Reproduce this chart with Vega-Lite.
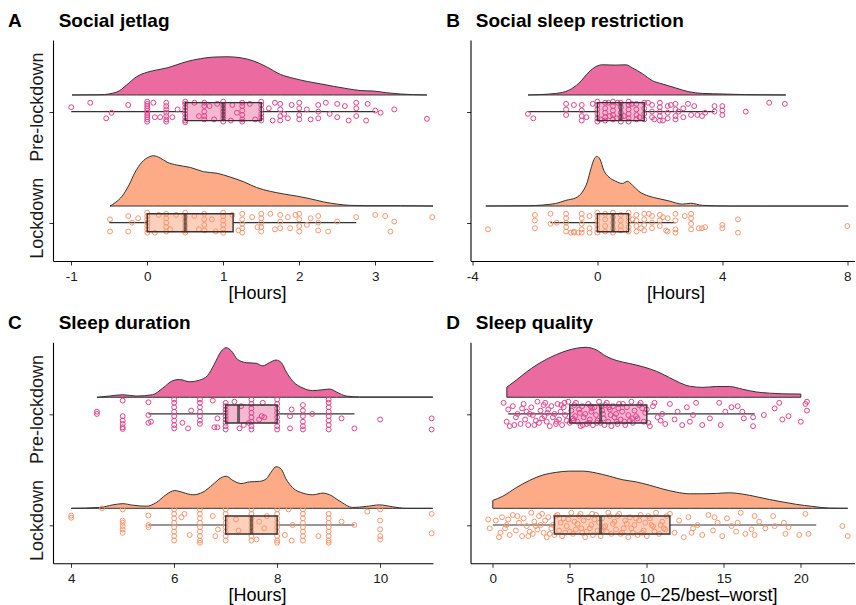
{
"$schema": "https://vega.github.io/schema/vega-lite/v6.json",
"padding": {"left": 8, "top": 12, "right": 0, "bottom": 0},
"config": {
 "view": {"stroke": null},
 "font": "Liberation Sans",
 "axis": {"grid": false, "domainColor": "#000", "domainWidth": 1.1, "tickColor": "#333", "tickSize": 4, "tickWidth": 1, "labelColor": "#1a1a1a", "labelFont": "Liberation Sans", "titleFont": "Liberation Sans", "titleFontWeight": "normal", "titleColor": "#000", "labelFlush": false},
 "axisX": {"labelFontSize": 13.5, "labelPadding": 4, "titleFontSize": 18, "titlePadding": 2},
 "axisY": {"labelFontSize": 18, "labelAngle": -90, "labelAlign": "center", "labelBaseline": "bottom", "labelPadding": 3, "labelOffset": -5},
 "point": {"shape": "circle", "filled": false, "size": 24, "strokeWidth": 1, "opacity": 1},
 "title": {"anchor": "start", "frame": "group", "fontSize": 19, "fontWeight": "bold", "font": "Liberation Sans", "color": "#000", "baseline": "alphabetic", "offset": 9}
},
"datasets": {
 "aPD": [{"x":-0.99,"y":2.15},{"x":-0.62,"y":2.152},{"x":-0.4,"y":2.176},{"x":-0.27,"y":2.241},{"x":-0.14,"y":2.314},{"x":0,"y":2.355},{"x":0.13,"y":2.376},{"x":0.26,"y":2.394},{"x":0.39,"y":2.422},{"x":0.52,"y":2.451},{"x":0.7,"y":2.477},{"x":0.87,"y":2.491},{"x":1.05,"y":2.494},{"x":1.22,"y":2.486},{"x":1.4,"y":2.456},{"x":1.58,"y":2.4},{"x":1.75,"y":2.336},{"x":1.93,"y":2.299},{"x":2.11,"y":2.271},{"x":2.28,"y":2.25},{"x":2.45,"y":2.228},{"x":2.63,"y":2.207},{"x":2.8,"y":2.19},{"x":2.98,"y":2.185},{"x":3.15,"y":2.17},{"x":3.33,"y":2.159},{"x":3.5,"y":2.153},{"x":3.68,"y":2.15}],
 "aLD": [{"x":-0.49,"y":1.15},{"x":-0.42,"y":1.181},{"x":-0.33,"y":1.239},{"x":-0.24,"y":1.339},{"x":-0.16,"y":1.454},{"x":-0.07,"y":1.545},{"x":0.02,"y":1.591},{"x":0.08,"y":1.603},{"x":0.17,"y":1.583},{"x":0.26,"y":1.545},{"x":0.39,"y":1.519},{"x":0.57,"y":1.497},{"x":0.74,"y":1.459},{"x":0.92,"y":1.445},{"x":1.09,"y":1.411},{"x":1.27,"y":1.368},{"x":1.44,"y":1.316},{"x":1.62,"y":1.282},{"x":1.79,"y":1.259},{"x":1.97,"y":1.239},{"x":2.14,"y":1.216},{"x":2.32,"y":1.187},{"x":2.5,"y":1.167},{"x":2.67,"y":1.156},{"x":2.89,"y":1.153},{"x":3.33,"y":1.153},{"x":3.76,"y":1.15}],
 "aB": [{"g":"Pre-lockdown","y":2,"lo":-1,"q1":0.5,"med":1,"q3":1.5,"hi":3},{"g":"Lockdown","y":1,"lo":-0.5,"q1":0,"med":0.5,"q3":1.13,"hi":2.75}],
 "aP": [{"x":0,"y":2.09},{"x":0,"y":2.07},{"x":0,"y":2.05},{"x":0,"y":2.03},{"x":0,"y":2.01},{"x":0,"y":1.99},{"x":0,"y":1.97},{"x":0,"y":1.95},{"x":0,"y":1.93},{"x":0,"y":1.91},
  {"x":0.25,"y":2.08},{"x":0.25,"y":2.05},{"x":0.25,"y":2.02},{"x":0.25,"y":1.99},{"x":0.25,"y":1.96},{"x":0.25,"y":1.93},{"x":0.25,"y":1.91},
  {"x":0.5,"y":2.09},{"x":0.5,"y":2.07},{"x":0.5,"y":2.04},{"x":0.5,"y":2.01},{"x":0.5,"y":1.98},{"x":0.5,"y":1.95},{"x":0.5,"y":1.92},{"x":0.5,"y":1.905},
  {"x":0.75,"y":2.08},{"x":0.75,"y":2.05},{"x":0.75,"y":2.0},{"x":0.75,"y":1.96},{"x":0.75,"y":1.93},
  {"x":1,"y":2.09},{"x":1,"y":2.06},{"x":1,"y":2.03},{"x":1,"y":2.0},{"x":1,"y":1.97},{"x":1,"y":1.94},{"x":1,"y":1.91},
  {"x":1.25,"y":2.08},{"x":1.25,"y":2.05},{"x":1.25,"y":2.01},{"x":1.25,"y":1.97},{"x":1.25,"y":1.93},{"x":1.25,"y":1.91},
  {"x":1.5,"y":2.09},{"x":1.5,"y":2.06},{"x":1.5,"y":2.02},{"x":1.5,"y":1.98},{"x":1.5,"y":1.95},{"x":1.5,"y":1.92},
  {"x":1.75,"y":2.07},{"x":1.75,"y":2.02},{"x":1.75,"y":1.96},{"x":1.75,"y":1.92},
  {"x":2,"y":2.08},{"x":2,"y":2.03},{"x":2,"y":1.97},{"x":2,"y":1.93},
  {"x":2.25,"y":2.06},{"x":2.25,"y":2.0},{"x":2.25,"y":1.94},
  {"x":2.5,"y":2.07},{"x":2.5,"y":1.95},
  {"x":2.75,"y":2.08},{"x":2.75,"y":2.03},{"x":2.75,"y":1.96},{"x":3,"y":2.01},
  {"x":-1,"y":2.04},{"x":-0.75,"y":2.08},{"x":-0.54,"y":1.94},{"x":-0.47,"y":1.99},{"x":-0.25,"y":2.06},{"x":0.08,"y":2.08},{"x":0.1,"y":1.95},{"x":0.17,"y":1.95},{"x":0.33,"y":1.95},{"x":0.4,"y":2.02},{"x":0.62,"y":2.08},{"x":0.68,"y":1.96},{"x":0.82,"y":2.05},{"x":0.88,"y":1.93},{"x":0.92,"y":2.07},{"x":1.1,"y":1.92},{"x":1.12,"y":2.06},{"x":1.18,"y":1.99},{"x":1.35,"y":2.07},{"x":1.42,"y":1.93},{"x":1.6,"y":2.03},{"x":1.65,"y":1.92},{"x":1.68,"y":2.08},{"x":1.8,"y":1.98},{"x":1.85,"y":1.94},{"x":1.9,"y":2.06},{"x":2.1,"y":2.02},{"x":2.15,"y":1.93},{"x":2.35,"y":2.08},{"x":2.4,"y":1.98},{"x":2.6,"y":2.05},{"x":2.65,"y":1.92},{"x":2.9,"y":2.07},{"x":2.88,"y":1.92},{"x":3.07,"y":1.99},{"x":3.25,"y":2.02},{"x":3.68,"y":1.935}],
 "aL": [{"x":0,"y":1.09},{"x":0,"y":1.06},{"x":0,"y":1.03},{"x":0,"y":1.0},{"x":0,"y":0.97},{"x":0,"y":0.94},{"x":0,"y":0.91},
  {"x":0.25,"y":1.08},{"x":0.25,"y":1.04},{"x":0.25,"y":1.0},{"x":0.25,"y":0.96},{"x":0.25,"y":0.92},
  {"x":0.5,"y":1.09},{"x":0.5,"y":1.05},{"x":0.5,"y":1.01},{"x":0.5,"y":0.97},{"x":0.5,"y":0.93},{"x":0.5,"y":0.91},
  {"x":0.75,"y":1.08},{"x":0.75,"y":1.03},{"x":0.75,"y":0.98},{"x":0.75,"y":0.93},
  {"x":1,"y":1.09},{"x":1,"y":1.06},{"x":1,"y":1.02},{"x":1,"y":0.98},{"x":1,"y":0.94},{"x":1,"y":0.91},
  {"x":1.25,"y":1.08},{"x":1.25,"y":1.03},{"x":1.25,"y":0.99},{"x":1.25,"y":0.95},{"x":1.25,"y":0.91},
  {"x":1.5,"y":1.08},{"x":1.5,"y":1.04},{"x":1.5,"y":1.0},{"x":1.5,"y":0.96},{"x":1.5,"y":0.92},
  {"x":1.75,"y":1.07},{"x":1.75,"y":1.01},{"x":1.75,"y":0.95},
  {"x":2,"y":1.08},{"x":2,"y":1.03},{"x":2,"y":0.97},{"x":2,"y":0.92},
  {"x":2.25,"y":1.06},{"x":2.25,"y":1.0},{"x":2.25,"y":0.93},
  {"x":-0.49,"y":1.03},{"x":-0.49,"y":0.92},{"x":-0.25,"y":1.06},{"x":-0.25,"y":0.92},{"x":-0.2,"y":1.0},{"x":-0.12,"y":1.04},{"x":0.1,"y":0.91},{"x":0.15,"y":1.07},{"x":0.3,"y":0.94},{"x":0.38,"y":1.07},{"x":0.62,"y":1.06},{"x":0.68,"y":0.94},{"x":0.85,"y":1.03},{"x":0.9,"y":0.92},{"x":1.12,"y":1.07},{"x":1.2,"y":0.93},{"x":1.38,"y":1.05},{"x":1.45,"y":0.96},{"x":1.62,"y":1.08},{"x":1.68,"y":0.94},{"x":1.85,"y":1.05},{"x":1.88,"y":0.95},{"x":1.95,"y":1.07},{"x":2.1,"y":0.98},{"x":2.15,"y":1.04},{"x":2.38,"y":0.92},{"x":2.5,"y":1.01},{"x":2.75,"y":1.05},{"x":3.0,"y":1.07},{"x":3.13,"y":1.06},{"x":3.2,"y":0.92},{"x":3.25,"y":1.01},{"x":3.75,"y":1.05}],
 "bPD": [{"x":-2.22,"y":2.15},{"x":-1.33,"y":2.164},{"x":-0.91,"y":2.193},{"x":-0.59,"y":2.256},{"x":-0.27,"y":2.357},{"x":-0.05,"y":2.405},{"x":0.16,"y":2.422},{"x":0.59,"y":2.419},{"x":0.91,"y":2.422},{"x":1.12,"y":2.394},{"x":1.44,"y":2.342},{"x":1.76,"y":2.279},{"x":2.07,"y":2.25},{"x":2.51,"y":2.213},{"x":2.93,"y":2.179},{"x":3.36,"y":2.164},{"x":4.0,"y":2.159},{"x":4.75,"y":2.153},{"x":6.03,"y":2.15}],
 "bLD": [{"x":-3.57,"y":1.15},{"x":-2.19,"y":1.153},{"x":-1.33,"y":1.173},{"x":-1.01,"y":1.201},{"x":-0.69,"y":1.224},{"x":-0.48,"y":1.276},{"x":-0.32,"y":1.368},{"x":-0.21,"y":1.482},{"x":-0.11,"y":1.568},{"x":-0.02,"y":1.597},{"x":0.08,"y":1.574},{"x":0.21,"y":1.468},{"x":0.37,"y":1.411},{"x":0.59,"y":1.373},{"x":0.8,"y":1.353},{"x":0.96,"y":1.373},{"x":1.12,"y":1.339},{"x":1.33,"y":1.282},{"x":1.65,"y":1.239},{"x":1.97,"y":1.216},{"x":2.29,"y":1.196},{"x":2.72,"y":1.167},{"x":2.99,"y":1.175},{"x":3.36,"y":1.156},{"x":4.21,"y":1.15},{"x":5.28,"y":1.15},{"x":8.03,"y":1.15}],
 "bB": [{"g":"Pre-lockdown","y":2,"lo":-2.22,"q1":0,"med":0.75,"q3":1.5,"hi":3.75},{"g":"Lockdown","y":1,"lo":-1.5,"q1":0,"med":0.5,"q3":1.0,"hi":2.5}],
 "bP": [{"x":-1,"y":2.07},{"x":-1,"y":2.02},{"x":-1,"y":1.97},
  {"x":-0.5,"y":2.06},{"x":-0.5,"y":2.01},{"x":-0.5,"y":1.96},{"x":-0.5,"y":1.92},
  {"x":0,"y":2.09},{"x":0,"y":2.06},{"x":0,"y":2.02},{"x":0,"y":1.98},{"x":0,"y":1.94},{"x":0,"y":1.91},
  {"x":0.25,"y":2.08},{"x":0.25,"y":2.03},{"x":0.25,"y":1.99},{"x":0.25,"y":1.95},{"x":0.25,"y":1.92},
  {"x":0.5,"y":2.09},{"x":0.5,"y":2.05},{"x":0.5,"y":2.01},{"x":0.5,"y":1.97},{"x":0.5,"y":1.93},
  {"x":0.75,"y":2.08},{"x":0.75,"y":2.04},{"x":0.75,"y":1.99},{"x":0.75,"y":1.95},{"x":0.75,"y":1.91},
  {"x":1,"y":2.09},{"x":1,"y":2.06},{"x":1,"y":2.02},{"x":1,"y":1.98},{"x":1,"y":1.94},{"x":1,"y":1.91},
  {"x":1.25,"y":2.07},{"x":1.25,"y":2.02},{"x":1.25,"y":1.97},{"x":1.25,"y":1.93},
  {"x":1.5,"y":2.08},{"x":1.5,"y":2.03},{"x":1.5,"y":1.98},{"x":1.5,"y":1.93},
  {"x":1.75,"y":2.06},{"x":1.75,"y":2.0},{"x":1.75,"y":1.95},
  {"x":2,"y":2.08},{"x":2,"y":2.04},{"x":2,"y":2.0},{"x":2,"y":1.96},{"x":2,"y":1.92},
  {"x":2.25,"y":2.05},{"x":2.25,"y":1.99},{"x":2.25,"y":1.94},
  {"x":2.5,"y":2.07},{"x":2.5,"y":2.02},{"x":2.5,"y":1.96},{"x":2.5,"y":1.93},
  {"x":2.75,"y":2.03},{"x":2.75,"y":1.95},
  {"x":-2.22,"y":1.98},{"x":-2.05,"y":1.94},{"x":-0.75,"y":2.06},{"x":-0.35,"y":1.95},{"x":-0.15,"y":2.07},{"x":0.1,"y":1.93},{"x":0.35,"y":2.08},{"x":0.4,"y":1.96},{"x":0.62,"y":1.94},{"x":0.65,"y":2.08},{"x":0.85,"y":1.96},{"x":1.1,"y":2.07},{"x":1.35,"y":1.95},{"x":1.62,"y":2.08},{"x":1.82,"y":1.93},{"x":2.1,"y":1.92},{"x":2.35,"y":2.06},{"x":2.6,"y":2.0},{"x":2.9,"y":2.07},{"x":3.0,"y":1.97},{"x":3.1,"y":2.05},{"x":3.2,"y":1.97},{"x":3.35,"y":1.96},{"x":3.45,"y":1.99},{"x":3.75,"y":2.05},{"x":3.75,"y":2.0},{"x":4.0,"y":2.05},{"x":4.0,"y":2.01},{"x":4.0,"y":1.97},{"x":4.75,"y":2.0},{"x":5.5,"y":2.08},{"x":6.0,"y":2.07}],
 "bL": [{"x":-2,"y":1.07},{"x":-2,"y":1.02},{"x":-2,"y":0.95},{"x":-1.5,"y":1.08},{"x":-1.5,"y":0.99},
  {"x":-1,"y":1.08},{"x":-1,"y":1.04},{"x":-1,"y":1.0},{"x":-1,"y":0.96},{"x":-1,"y":0.92},
  {"x":-0.75,"y":0.92},{"x":-0.75,"y":0.91},
  {"x":-0.5,"y":1.08},{"x":-0.5,"y":1.04},{"x":-0.5,"y":0.99},{"x":-0.5,"y":0.94},{"x":-0.5,"y":0.91},
  {"x":-0.25,"y":1.06},{"x":-0.25,"y":0.95},{"x":-0.25,"y":0.91},
  {"x":0,"y":1.09},{"x":0,"y":1.06},{"x":0,"y":1.02},{"x":0,"y":0.98},{"x":0,"y":0.94},{"x":0,"y":0.91},
  {"x":0.25,"y":1.08},{"x":0.25,"y":1.03},{"x":0.25,"y":0.97},{"x":0.25,"y":0.92},
  {"x":0.5,"y":1.09},{"x":0.5,"y":1.05},{"x":0.5,"y":1.0},{"x":0.5,"y":0.95},{"x":0.5,"y":0.91},
  {"x":0.75,"y":1.07},{"x":0.75,"y":1.02},{"x":0.75,"y":0.97},{"x":0.75,"y":0.93},
  {"x":1,"y":1.09},{"x":1,"y":1.05},{"x":1,"y":1.01},{"x":1,"y":0.96},{"x":1,"y":0.92},
  {"x":1.25,"y":1.07},{"x":1.25,"y":1.02},{"x":1.25,"y":0.97},{"x":1.25,"y":0.92},
  {"x":1.5,"y":1.08},{"x":1.5,"y":1.03},{"x":1.5,"y":0.98},{"x":1.5,"y":0.93},
  {"x":1.75,"y":1.06},{"x":1.75,"y":1.0},{"x":1.75,"y":0.95},
  {"x":2,"y":1.07},{"x":2,"y":1.02},{"x":2,"y":0.97},
  {"x":2.25,"y":1.04},{"x":2.25,"y":0.92},
  {"x":2.5,"y":1.08},{"x":2.5,"y":1.02},{"x":2.5,"y":0.94},{"x":2.5,"y":0.91},
  {"x":3,"y":1.08},{"x":3,"y":1.04},{"x":3,"y":0.99},{"x":3,"y":0.94},
  {"x":-3.5,"y":0.94},{"x":-1.3,"y":1.0},{"x":-0.85,"y":0.91},{"x":-0.6,"y":0.91},{"x":1.12,"y":1.03},{"x":1.4,"y":0.95},{"x":1.65,"y":1.08},{"x":2.1,"y":1.05},{"x":2.2,"y":0.93},{"x":2.8,"y":1.06},{"x":3.25,"y":0.95},{"x":3.35,"y":0.95},{"x":3.45,"y":0.96},{"x":4.0,"y":0.98},{"x":4.0,"y":0.95},{"x":4.5,"y":1.03},{"x":4.5,"y":0.91},{"x":8.0,"y":0.97}],
 "cPD": [{"x":4.5,"y":2.15},{"x":4.74,"y":2.161},{"x":5.0,"y":2.173},{"x":5.26,"y":2.161},{"x":5.58,"y":2.173},{"x":5.78,"y":2.233},{"x":5.97,"y":2.299},{"x":6.1,"y":2.31},{"x":6.3,"y":2.29},{"x":6.49,"y":2.304},{"x":6.65,"y":2.347},{"x":6.78,"y":2.448},{"x":6.91,"y":2.562},{"x":7.01,"y":2.597},{"x":7.11,"y":2.568},{"x":7.23,"y":2.491},{"x":7.4,"y":2.462},{"x":7.59,"y":2.456},{"x":7.72,"y":2.433},{"x":7.85,"y":2.462},{"x":7.98,"y":2.485},{"x":8.08,"y":2.462},{"x":8.18,"y":2.376},{"x":8.3,"y":2.296},{"x":8.5,"y":2.233},{"x":8.69,"y":2.21},{"x":8.89,"y":2.218},{"x":9.02,"y":2.224},{"x":9.15,"y":2.198},{"x":9.34,"y":2.161},{"x":9.6,"y":2.153},{"x":11.02,"y":2.153}],
 "cLD": [{"x":4.0,"y":1.15},{"x":4.55,"y":1.158},{"x":4.81,"y":1.181},{"x":5.0,"y":1.192},{"x":5.2,"y":1.178},{"x":5.46,"y":1.169},{"x":5.65,"y":1.201},{"x":5.84,"y":1.272},{"x":6.01,"y":1.31},{"x":6.17,"y":1.293},{"x":6.36,"y":1.272},{"x":6.56,"y":1.296},{"x":6.75,"y":1.364},{"x":6.91,"y":1.425},{"x":7.01,"y":1.439},{"x":7.14,"y":1.401},{"x":7.3,"y":1.373},{"x":7.46,"y":1.388},{"x":7.66,"y":1.393},{"x":7.79,"y":1.416},{"x":7.88,"y":1.474},{"x":7.98,"y":1.525},{"x":8.08,"y":1.502},{"x":8.17,"y":1.416},{"x":8.3,"y":1.336},{"x":8.5,"y":1.287},{"x":8.69,"y":1.272},{"x":8.89,"y":1.287},{"x":9.02,"y":1.272},{"x":9.21,"y":1.216},{"x":9.47,"y":1.158},{"x":9.73,"y":1.167},{"x":9.99,"y":1.181},{"x":10.24,"y":1.164},{"x":10.5,"y":1.15},{"x":11.02,"y":1.15}],
 "cB": [{"g":"Pre-lockdown","y":2,"lo":5.5,"q1":7,"med":7.25,"q3":8,"hi":9.5},{"g":"Lockdown","y":1,"lo":5.5,"q1":7,"med":7.5,"q3":8,"hi":9.5}],
 "cP": [{"x":4.5,"y":2.02},{"x":4.5,"y":2.0},
  {"x":5,"y":2.12},{"x":5,"y":1.98},{"x":5,"y":1.94},{"x":5,"y":1.91},{"x":5,"y":1.88},{"x":5,"y":1.865},
  {"x":5.5,"y":2.105},{"x":5.5,"y":1.99},{"x":5.5,"y":1.92},
  {"x":6,"y":2.13},{"x":6,"y":2.1},{"x":6,"y":2.06},{"x":6,"y":2.02},{"x":6,"y":1.98},{"x":6,"y":1.94},{"x":6,"y":1.9},{"x":6,"y":1.87},
  {"x":6.5,"y":2.13},{"x":6.5,"y":2.1},{"x":6.5,"y":2.06},{"x":6.5,"y":2.02},{"x":6.5,"y":1.98},{"x":6.5,"y":1.94},{"x":6.5,"y":1.91},
  {"x":7,"y":2.1},{"x":7,"y":2.07},{"x":7,"y":2.04},{"x":7,"y":2.01},{"x":7,"y":1.98},{"x":7,"y":1.95},{"x":7,"y":1.92},{"x":7,"y":1.89},{"x":7,"y":1.86},
  {"x":7.5,"y":2.13},{"x":7.5,"y":2.09},{"x":7.5,"y":2.05},{"x":7.5,"y":2.01},{"x":7.5,"y":1.97},{"x":7.5,"y":1.93},{"x":7.5,"y":1.89},{"x":7.5,"y":1.86},
  {"x":8,"y":2.13},{"x":8,"y":2.09},{"x":8,"y":2.05},{"x":8,"y":2.01},{"x":8,"y":1.97},{"x":8,"y":1.93},{"x":8,"y":1.89},{"x":8,"y":1.86},
  {"x":8.5,"y":2.08},{"x":8.5,"y":2.03},{"x":8.5,"y":1.98},{"x":8.5,"y":1.93},{"x":8.5,"y":1.89},{"x":8.5,"y":1.86},
  {"x":9,"y":2.13},{"x":9,"y":2.1},{"x":9,"y":2.06},{"x":9,"y":2.02},{"x":9,"y":1.98},{"x":9,"y":1.94},{"x":9,"y":1.9},{"x":9,"y":1.86},
  {"x":5.55,"y":1.93},{"x":6.16,"y":1.92},{"x":6.27,"y":1.87},{"x":6.33,"y":2.03},{"x":6.75,"y":2.12},{"x":6.78,"y":1.88},{"x":6.84,"y":1.88},{"x":6.84,"y":1.96},{"x":7.17,"y":2.11},{"x":7.27,"y":1.87},{"x":7.3,"y":2.07},{"x":7.35,"y":1.9},{"x":7.45,"y":1.92},{"x":7.65,"y":1.95},{"x":7.7,"y":1.98},{"x":7.75,"y":1.97},{"x":7.72,"y":2.1},{"x":8.25,"y":1.98},{"x":8.25,"y":1.87},{"x":8.28,"y":2.04},{"x":8.68,"y":2.0},{"x":9.25,"y":1.96},{"x":9.5,"y":1.87},{"x":10.0,"y":1.95},{"x":11.0,"y":1.96},{"x":11.0,"y":1.86}],
 "cL": [{"x":4,"y":1.085},{"x":4,"y":1.065},
  {"x":5,"y":1.14},{"x":5,"y":1.04},{"x":5,"y":1.02},{"x":5,"y":0.99},{"x":5,"y":0.96},{"x":5,"y":0.93},
  {"x":5.5,"y":1.085},{"x":5.5,"y":1.0},{"x":5.5,"y":0.98},
  {"x":6,"y":1.14},{"x":6,"y":1.1},{"x":6,"y":1.06},{"x":6,"y":1.02},{"x":6,"y":0.98},{"x":6,"y":0.94},{"x":6,"y":0.9},{"x":6,"y":0.86},
  {"x":6.5,"y":1.14},{"x":6.5,"y":1.1},{"x":6.5,"y":1.06},{"x":6.5,"y":1.02},{"x":6.5,"y":0.98},{"x":6.5,"y":0.94},{"x":6.5,"y":0.9},{"x":6.5,"y":0.86},{"x":6.5,"y":0.84},
  {"x":7,"y":1.14},{"x":7,"y":1.1},{"x":7,"y":1.06},{"x":7,"y":1.02},{"x":7,"y":0.98},{"x":7,"y":0.94},{"x":7,"y":0.9},{"x":7,"y":0.86},
  {"x":7.5,"y":1.14},{"x":7.5,"y":1.1},{"x":7.5,"y":1.06},{"x":7.5,"y":1.02},{"x":7.5,"y":0.98},{"x":7.5,"y":0.94},{"x":7.5,"y":0.9},{"x":7.5,"y":0.86},
  {"x":8,"y":1.14},{"x":8,"y":1.1},{"x":8,"y":1.06},{"x":8,"y":1.02},{"x":8,"y":0.98},{"x":8,"y":0.94},{"x":8,"y":0.9},{"x":8,"y":0.86},{"x":8,"y":0.84},
  {"x":8.5,"y":1.14},{"x":8.5,"y":1.1},{"x":8.5,"y":1.06},{"x":8.5,"y":1.02},{"x":8.5,"y":0.98},{"x":8.5,"y":0.94},{"x":8.5,"y":0.9},{"x":8.5,"y":0.86},
  {"x":9,"y":1.1},{"x":9,"y":1.06},{"x":9,"y":1.02},{"x":9,"y":0.98},{"x":9,"y":0.94},{"x":9,"y":0.9},{"x":9,"y":0.86},{"x":9,"y":0.84},
  {"x":10,"y":1.14},{"x":10,"y":1.04},{"x":10,"y":0.96},{"x":10,"y":0.9},{"x":10,"y":0.87},
  {"x":11,"y":1.1},{"x":11,"y":0.925},
  {"x":4.6,"y":1.15},{"x":6.14,"y":1.07},{"x":6.2,"y":1.1},{"x":6.3,"y":0.91},{"x":6.75,"y":1.08},{"x":6.8,"y":0.9},{"x":6.85,"y":0.96},{"x":7.2,"y":1.05},{"x":7.25,"y":0.95},{"x":7.6,"y":0.87},{"x":7.65,"y":1.03},{"x":7.75,"y":0.97},{"x":7.8,"y":1.08},{"x":8.22,"y":1.14},{"x":8.15,"y":0.91},{"x":8.3,"y":1.0},{"x":8.28,"y":0.86},{"x":8.8,"y":0.9},{"x":9.25,"y":1.03},{"x":9.5,"y":1.0},{"x":9.75,"y":1.12}],
 "dPD": [{"x":0.91,"y":2.241},{"x":1.52,"y":2.304},{"x":2.17,"y":2.376},{"x":2.82,"y":2.439},{"x":3.47,"y":2.491},{"x":4.12,"y":2.534},{"x":4.77,"y":2.568},{"x":5.42,"y":2.591},{"x":6.06,"y":2.6},{"x":6.71,"y":2.577},{"x":7.36,"y":2.519},{"x":8.01,"y":2.482},{"x":8.88,"y":2.454},{"x":9.74,"y":2.425},{"x":10.61,"y":2.385},{"x":11.47,"y":2.327},{"x":12.12,"y":2.282},{"x":12.77,"y":2.25},{"x":13.64,"y":2.239},{"x":14.51,"y":2.247},{"x":15.37,"y":2.247},{"x":16.23,"y":2.222},{"x":17.1,"y":2.198},{"x":17.97,"y":2.187},{"x":18.83,"y":2.181},{"x":20.0,"y":2.179}],
 "dLD": [{"x":0,"y":1.221},{"x":0.65,"y":1.259},{"x":1.52,"y":1.336},{"x":2.38,"y":1.401},{"x":3.25,"y":1.45},{"x":4.12,"y":1.474},{"x":4.98,"y":1.485},{"x":5.84,"y":1.485},{"x":6.71,"y":1.468},{"x":7.58,"y":1.439},{"x":8.44,"y":1.407},{"x":9.31,"y":1.388},{"x":10.18,"y":1.358},{"x":11.04,"y":1.324},{"x":11.91,"y":1.296},{"x":12.77,"y":1.281},{"x":13.64,"y":1.281},{"x":14.51,"y":1.284},{"x":15.37,"y":1.29},{"x":16.23,"y":1.278},{"x":17.1,"y":1.255},{"x":17.97,"y":1.229},{"x":18.83,"y":1.207},{"x":19.7,"y":1.186},{"x":20.78,"y":1.167},{"x":21.86,"y":1.152},{"x":23.05,"y":1.15}],
 "dB": [{"g":"Pre-lockdown","y":2,"lo":1,"q1":5,"med":7,"q3":10,"hi":17},{"g":"Lockdown","y":1,"lo":0,"q1":4,"med":7,"q3":11.5,"hi":21}],
 "dP": [{"x":0.7,"y":2.1},{"x":0.9,"y":1.93},{"x":1.0,"y":2.04},{"x":1.1,"y":1.89},{"x":1.3,"y":2.07},{"x":1.5,"y":1.97},{"x":1.6,"y":2.0},{"x":1.8,"y":1.91},{"x":2.0,"y":2.09},{"x":2.1,"y":1.95},{"x":2.2,"y":2.02},{"x":2.3,"y":1.9},{"x":2.5,"y":2.06},{"x":2.6,"y":1.99},{"x":2.8,"y":1.94},{"x":2.9,"y":2.11},{"x":3.0,"y":1.92},{"x":3.1,"y":2.03},{"x":3.2,"y":1.96},{"x":3.3,"y":2.08},
  {"x":3.4,"y":2.1},{"x":3.5,"y":1.93},{"x":3.6,"y":2.04},{"x":3.7,"y":1.89},{"x":3.8,"y":2.07},{"x":3.9,"y":1.97},{"x":4.0,"y":2.0},{"x":4.1,"y":1.91},{"x":4.2,"y":2.09},{"x":4.3,"y":1.95},{"x":4.4,"y":2.02},{"x":4.5,"y":1.9},{"x":4.6,"y":2.06},{"x":4.7,"y":1.99},{"x":4.8,"y":1.94},{"x":4.9,"y":2.11},{"x":5.0,"y":1.92},{"x":5.1,"y":2.03},{"x":5.2,"y":1.96},{"x":5.3,"y":2.08},
  {"x":5.4,"y":2.1},{"x":5.5,"y":1.93},{"x":5.6,"y":2.04},{"x":5.7,"y":1.89},{"x":5.8,"y":2.07},{"x":5.9,"y":1.97},{"x":6.0,"y":2.0},{"x":6.1,"y":1.91},{"x":6.2,"y":2.09},{"x":6.3,"y":1.95},{"x":6.4,"y":2.02},{"x":6.5,"y":1.9},{"x":6.6,"y":2.06},{"x":6.7,"y":1.99},{"x":6.8,"y":1.94},{"x":6.9,"y":2.11},{"x":7.0,"y":1.92},{"x":7.1,"y":2.03},{"x":7.2,"y":1.96},{"x":7.3,"y":2.08},
  {"x":7.4,"y":2.1},{"x":7.5,"y":1.93},{"x":7.6,"y":2.04},{"x":7.7,"y":1.89},{"x":7.8,"y":2.07},{"x":7.9,"y":1.97},{"x":8.0,"y":2.0},{"x":8.1,"y":1.91},{"x":8.2,"y":2.09},{"x":8.3,"y":1.95},{"x":8.4,"y":2.02},{"x":8.6,"y":1.9},{"x":8.7,"y":2.06},{"x":8.8,"y":1.99},{"x":8.9,"y":1.94},{"x":9.0,"y":2.11},{"x":9.1,"y":1.92},{"x":9.2,"y":2.03},{"x":9.4,"y":1.96},{"x":9.5,"y":2.08},
  {"x":9.6,"y":2.1},{"x":9.8,"y":1.93},{"x":10.0,"y":2.04},{"x":10.2,"y":1.89},{"x":10.4,"y":2.07},{"x":10.7,"y":1.97},{"x":11.0,"y":2.0},{"x":11.2,"y":1.91},{"x":11.5,"y":2.09},{"x":11.8,"y":1.95},{"x":12.0,"y":2.02},{"x":12.3,"y":1.9},{"x":12.6,"y":2.06},{"x":13.0,"y":1.99},{"x":13.2,"y":2.1},{"x":13.6,"y":1.9},{"x":14.1,"y":1.96},{"x":14.7,"y":2.1},{"x":14.8,"y":1.9},{"x":15.1,"y":2.02},
  {"x":15.9,"y":2.07},{"x":16.2,"y":2.02},{"x":16.3,"y":1.96},{"x":16.9,"y":1.97},{"x":16.9,"y":1.89},{"x":17.6,"y":1.99},{"x":18.3,"y":2.05},{"x":18.6,"y":2.1},{"x":18.8,"y":1.95},{"x":19.2,"y":1.98},{"x":20.0,"y":1.93},{"x":20.3,"y":2.09},{"x":20.4,"y":2.11},{"x":20.4,"y":2.03},
  {"x":1.4,"y":1.9},{"x":2.4,"y":2.0},{"x":3.35,"y":1.98},{"x":4.45,"y":2.08},{"x":5.25,"y":1.94},{"x":5.65,"y":2.01},{"x":6.25,"y":1.92},{"x":6.45,"y":2.05},{"x":7.05,"y":2.07},{"x":7.25,"y":1.9},{"x":7.65,"y":1.99},{"x":8.15,"y":2.05},{"x":8.55,"y":1.93},{"x":9.3,"y":1.98},{"x":9.7,"y":2.05},{"x":10.1,"y":1.92},{"x":10.5,"y":2.1},{"x":10.9,"y":1.94},{"x":12.8,"y":1.93},{"x":15.5,"y":2.06},
  {"x":1.9,"y":2.05},{"x":2.7,"y":1.9},{"x":3.55,"y":2.01},{"x":4.15,"y":1.93},{"x":4.65,"y":2.1},{"x":5.35,"y":1.98},{"x":5.85,"y":1.9},{"x":6.35,"y":2.07},{"x":6.75,"y":1.92},{"x":7.15,"y":2.0},{"x":7.55,"y":2.06},{"x":8.05,"y":1.93},{"x":8.45,"y":2.09},{"x":9.05,"y":1.96},{"x":9.9,"y":2.01}],
 "dL": [{"x":-0.3,"y":1.05},{"x":-0.2,"y":0.97},{"x":0.2,"y":1.04},{"x":0.4,"y":0.89},{"x":0.6,"y":1.07},{"x":0.8,"y":0.97},{"x":0.9,"y":1.0},{"x":1.1,"y":0.91},{"x":1.3,"y":1.09},{"x":1.5,"y":0.95},{"x":1.7,"y":1.02},{"x":1.9,"y":0.9},{"x":2.0,"y":1.06},{"x":2.2,"y":0.99},{"x":2.4,"y":0.94},{"x":2.5,"y":1.11},{"x":2.6,"y":0.92},{"x":2.7,"y":1.03},{"x":2.9,"y":0.96},{"x":3.0,"y":1.08},
  {"x":3.2,"y":1.1},{"x":3.3,"y":0.93},{"x":3.4,"y":1.04},{"x":3.5,"y":0.89},{"x":3.6,"y":1.07},{"x":3.8,"y":0.97},{"x":3.9,"y":1.0},{"x":4.0,"y":0.91},{"x":4.2,"y":1.09},{"x":4.3,"y":0.95},{"x":4.4,"y":1.02},{"x":4.5,"y":0.9},{"x":4.6,"y":1.06},{"x":4.8,"y":0.99},{"x":5.0,"y":0.94},{"x":5.1,"y":1.11},{"x":5.2,"y":0.92},{"x":5.3,"y":1.03},{"x":5.4,"y":0.96},{"x":5.6,"y":1.08},
  {"x":5.7,"y":1.1},{"x":5.8,"y":0.93},{"x":5.9,"y":1.04},{"x":6.0,"y":0.89},{"x":6.2,"y":1.07},{"x":6.3,"y":0.97},{"x":6.4,"y":1.0},{"x":6.5,"y":0.91},{"x":6.7,"y":1.09},{"x":6.8,"y":0.95},{"x":6.9,"y":1.02},{"x":7.0,"y":0.9},{"x":7.1,"y":1.06},{"x":7.3,"y":0.99},{"x":7.4,"y":0.94},{"x":7.5,"y":1.11},{"x":7.7,"y":0.92},{"x":7.9,"y":1.03},{"x":8.0,"y":0.96},{"x":8.1,"y":1.08},
  {"x":8.2,"y":1.1},{"x":8.4,"y":0.93},{"x":8.6,"y":1.04},{"x":8.8,"y":0.89},{"x":8.9,"y":1.07},{"x":9.0,"y":0.97},{"x":9.2,"y":1.0},{"x":9.4,"y":0.91},{"x":9.6,"y":1.09},{"x":9.8,"y":0.95},{"x":9.9,"y":1.02},{"x":10.0,"y":0.9},{"x":10.2,"y":1.06},{"x":10.4,"y":0.99},{"x":10.5,"y":0.94},{"x":10.6,"y":1.11},{"x":10.8,"y":0.92},{"x":11.0,"y":1.03},{"x":11.2,"y":0.96},{"x":11.3,"y":1.08},
  {"x":11.5,"y":1.1},{"x":11.8,"y":0.93},{"x":12.1,"y":1.04},{"x":12.4,"y":0.89},{"x":12.7,"y":1.07},{"x":13.0,"y":0.97},{"x":13.3,"y":1.0},{"x":13.6,"y":0.91},{"x":14.0,"y":1.09},{"x":14.3,"y":0.95},{"x":14.6,"y":1.02},{"x":14.9,"y":0.9},{"x":15.2,"y":1.06},{"x":15.5,"y":0.99},{"x":15.8,"y":0.94},{"x":16.1,"y":1.11},{"x":16.4,"y":0.92},{"x":16.8,"y":0.96},{"x":17.0,"y":1.08},{"x":17.0,"y":0.91},
  {"x":17.3,"y":1.03},{"x":17.7,"y":0.97},{"x":18.2,"y":1.08},{"x":18.3,"y":0.99},{"x":18.9,"y":1.02},{"x":19.2,"y":0.98},{"x":19.9,"y":0.91},{"x":20.3,"y":1.1},{"x":20.5,"y":0.92},{"x":22.7,"y":0.99},{"x":23.05,"y":0.9},
  {"x":1.0,"y":1.05},{"x":2.3,"y":0.9},{"x":3.1,"y":1.0},{"x":4.1,"y":1.08},{"x":4.7,"y":0.93},{"x":5.5,"y":1.01},{"x":6.1,"y":0.94},{"x":6.6,"y":1.05},{"x":7.2,"y":0.98},{"x":7.6,"y":1.08},{"x":8.3,"y":0.92},{"x":8.7,"y":1.01},{"x":9.3,"y":1.06},{"x":9.7,"y":0.93},{"x":10.3,"y":1.0},{"x":11.1,"y":0.97},
  {"x":0.5,"y":0.93},{"x":1.6,"y":1.08},{"x":2.8,"y":0.99},{"x":3.7,"y":0.92},{"x":4.9,"y":1.05},{"x":5.75,"y":0.97},{"x":6.45,"y":1.1},{"x":7.05,"y":0.95},{"x":7.8,"y":1.01},{"x":8.5,"y":0.97},{"x":9.1,"y":0.93},{"x":9.5,"y":1.04},{"x":10.1,"y":1.08},{"x":10.9,"y":1.0},{"x":12.9,"y":0.93},{"x":14.4,"y":1.07},{"x":15.9,"y":1.02},{"x":19.0,"y":0.92}]
},
"columns": 2,
"spacing": {"row": 81.3, "column": 37.5},
"bounds": "flush",
"concat": [
  {"width": 380, "height": 221,
   "title": {"text": "A\u00a0\u00a0\u00a0\u00a0\u00a0\u00a0\u00a0Social jetlag", "dx": -45},
   "encoding": {
    "x": {"field": "x", "type": "quantitative", "scale": {"domain": [-1.24, 3.76], "nice": false, "zero": false}, "axis": {"title": "[Hours]", "values": [-1, 0, 1, 2, 3], "labelExpr": "'' + datum.value", "titleX": 204}},
    "y": {"field": "y", "type": "quantitative", "scale": {"domain": [0.7, 2.6], "nice": false, "zero": false}, "axis": {"title": null, "values": [1, 2], "labelExpr": "datum.value == 2 ? 'Pre-lockdown' : 'Lockdown'"}}
   },
   "layer": [
    {"data": {"name": "aPD"}, "mark": {"type": "area", "fill": "#EB6A9F", "fillOpacity": 1, "stroke": "#333", "strokeWidth": 1, "interpolate": "monotone"}, "encoding": {"y2": {"datum": 2.15}}},
    {"data": {"name": "aLD"}, "mark": {"type": "area", "fill": "#FDAA86", "fillOpacity": 1, "stroke": "#333", "strokeWidth": 1, "interpolate": "monotone"}, "encoding": {"y2": {"datum": 1.15}}},
    {"data": {"name": "aB"}, "mark": {"type": "rule", "color": "#333", "strokeWidth": 1.2}, "encoding": {"x": {"field": "lo", "type": "quantitative", "scale": {"domain": [-1.24, 3.76], "nice": false, "zero": false}, "axis": {"title": "[Hours]", "values": [-1, 0, 1, 2, 3], "labelExpr": "'' + datum.value", "titleX": 204}}, "x2": {"field": "hi"}}},
    {"data": {"name": "aB"}, "mark": {"type": "bar", "orient": "horizontal", "size": 18}, "encoding": {"x": {"field": "q1", "type": "quantitative", "scale": {"domain": [-1.24, 3.76], "nice": false, "zero": false}, "axis": {"title": "[Hours]", "values": [-1, 0, 1, 2, 3], "labelExpr": "'' + datum.value", "titleX": 204}}, "x2": {"field": "q3"}, "fill": {"field": "g", "type": "nominal", "scale": {"domain": ["Pre-lockdown", "Lockdown"], "range": ["#F4B8D1", "#FDD0BC"]}, "legend": null}}},
    {"data": {"name": "aP"}, "mark": {"type": "point", "color": "#E2418B"}},
    {"data": {"name": "aL"}, "mark": {"type": "point", "color": "#F9956E"}},
    {"data": {"name": "aB"}, "mark": {"type": "bar", "orient": "horizontal", "size": 18, "fillOpacity": 0, "stroke": "#333", "strokeWidth": 1.4}, "encoding": {"x": {"field": "q1", "type": "quantitative", "scale": {"domain": [-1.24, 3.76], "nice": false, "zero": false}, "axis": {"title": "[Hours]", "values": [-1, 0, 1, 2, 3], "labelExpr": "'' + datum.value", "titleX": 204}}, "x2": {"field": "q3"}}},
    {"data": {"name": "aB"}, "mark": {"type": "tick", "orient": "vertical", "size": 18, "thickness": 3, "color": "#333"}, "encoding": {"x": {"field": "med", "type": "quantitative", "scale": {"domain": [-1.24, 3.76], "nice": false, "zero": false}, "axis": {"title": "[Hours]", "values": [-1, 0, 1, 2, 3], "labelExpr": "'' + datum.value", "titleX": 204}}}}
   ]
  },
  {"width": 384, "height": 221,
   "title": {"text": "B\u00a0\u00a0\u00a0Social sleep restriction", "dx": -24.3},
   "encoding": {
    "x": {"field": "x", "type": "quantitative", "scale": {"domain": [-4.06, 8.23], "nice": false, "zero": false}, "axis": {"title": "[Hours]", "values": [-4, 0, 4, 8], "labelExpr": "'' + datum.value", "titleX": 205}},
    "y": {"field": "y", "type": "quantitative", "scale": {"domain": [0.7, 2.6], "nice": false, "zero": false}, "axis": {"title": null, "values": [1, 2], "labels": false}}
   },
   "layer": [
    {"data": {"name": "bPD"}, "mark": {"type": "area", "fill": "#EB6A9F", "fillOpacity": 1, "stroke": "#333", "strokeWidth": 1, "interpolate": "monotone"}, "encoding": {"y2": {"datum": 2.15}}},
    {"data": {"name": "bLD"}, "mark": {"type": "area", "fill": "#FDAA86", "fillOpacity": 1, "stroke": "#333", "strokeWidth": 1, "interpolate": "monotone"}, "encoding": {"y2": {"datum": 1.15}}},
    {"data": {"name": "bB"}, "mark": {"type": "rule", "color": "#333", "strokeWidth": 1.2}, "encoding": {"x": {"field": "lo", "type": "quantitative", "scale": {"domain": [-4.06, 8.23], "nice": false, "zero": false}, "axis": {"title": "[Hours]", "values": [-4, 0, 4, 8], "labelExpr": "'' + datum.value", "titleX": 205}}, "x2": {"field": "hi"}}},
    {"data": {"name": "bB"}, "mark": {"type": "bar", "orient": "horizontal", "size": 18}, "encoding": {"x": {"field": "q1", "type": "quantitative", "scale": {"domain": [-4.06, 8.23], "nice": false, "zero": false}, "axis": {"title": "[Hours]", "values": [-4, 0, 4, 8], "labelExpr": "'' + datum.value", "titleX": 205}}, "x2": {"field": "q3"}, "fill": {"field": "g", "type": "nominal", "scale": {"domain": ["Pre-lockdown", "Lockdown"], "range": ["#F4B8D1", "#FDD0BC"]}, "legend": null}}},
    {"data": {"name": "bP"}, "mark": {"type": "point", "color": "#E2418B"}},
    {"data": {"name": "bL"}, "mark": {"type": "point", "color": "#F9956E"}},
    {"data": {"name": "bB"}, "mark": {"type": "bar", "orient": "horizontal", "size": 18, "fillOpacity": 0, "stroke": "#333", "strokeWidth": 1.4}, "encoding": {"x": {"field": "q1", "type": "quantitative", "scale": {"domain": [-4.06, 8.23], "nice": false, "zero": false}, "axis": {"title": "[Hours]", "values": [-4, 0, 4, 8], "labelExpr": "'' + datum.value", "titleX": 205}}, "x2": {"field": "q3"}}},
    {"data": {"name": "bB"}, "mark": {"type": "tick", "orient": "vertical", "size": 18, "thickness": 3, "color": "#333"}, "encoding": {"x": {"field": "med", "type": "quantitative", "scale": {"domain": [-4.06, 8.23], "nice": false, "zero": false}, "axis": {"title": "[Hours]", "values": [-4, 0, 4, 8], "labelExpr": "'' + datum.value", "titleX": 205}}}}
   ]
  },
  {"width": 380, "height": 221,
   "title": {"text": "C\u00a0\u00a0\u00a0\u00a0\u00a0\u00a0\u00a0Sleep duration", "dx": -45},
   "encoding": {
    "x": {"field": "x", "type": "quantitative", "scale": {"domain": [3.647, 11.026], "nice": false, "zero": false}, "axis": {"title": "[Hours]", "values": [4, 6, 8, 10], "labelExpr": "'' + datum.value", "titleX": 204}},
    "y": {"field": "y", "type": "quantitative", "scale": {"domain": [0.7, 2.6], "nice": false, "zero": false}, "axis": {"title": null, "values": [1, 2], "labelExpr": "datum.value == 2 ? 'Pre-lockdown' : 'Lockdown'"}}
   },
   "layer": [
    {"data": {"name": "cPD"}, "mark": {"type": "area", "fill": "#EB6A9F", "fillOpacity": 1, "stroke": "#333", "strokeWidth": 1, "interpolate": "monotone"}, "encoding": {"y2": {"datum": 2.15}}},
    {"data": {"name": "cLD"}, "mark": {"type": "area", "fill": "#FDAA86", "fillOpacity": 1, "stroke": "#333", "strokeWidth": 1, "interpolate": "monotone"}, "encoding": {"y2": {"datum": 1.15}}},
    {"data": {"name": "cB"}, "mark": {"type": "rule", "color": "#333", "strokeWidth": 1.2}, "encoding": {"x": {"field": "lo", "type": "quantitative", "scale": {"domain": [3.647, 11.026], "nice": false, "zero": false}, "axis": {"title": "[Hours]", "values": [4, 6, 8, 10], "labelExpr": "'' + datum.value", "titleX": 204}}, "x2": {"field": "hi"}}},
    {"data": {"name": "cB"}, "mark": {"type": "bar", "orient": "horizontal", "size": 18}, "encoding": {"x": {"field": "q1", "type": "quantitative", "scale": {"domain": [3.647, 11.026], "nice": false, "zero": false}, "axis": {"title": "[Hours]", "values": [4, 6, 8, 10], "labelExpr": "'' + datum.value", "titleX": 204}}, "x2": {"field": "q3"}, "fill": {"field": "g", "type": "nominal", "scale": {"domain": ["Pre-lockdown", "Lockdown"], "range": ["#F4B8D1", "#FDD0BC"]}, "legend": null}}},
    {"data": {"name": "cP"}, "mark": {"type": "point", "color": "#E2418B"}},
    {"data": {"name": "cL"}, "mark": {"type": "point", "color": "#F9956E"}},
    {"data": {"name": "cB"}, "mark": {"type": "bar", "orient": "horizontal", "size": 18, "fillOpacity": 0, "stroke": "#333", "strokeWidth": 1.4}, "encoding": {"x": {"field": "q1", "type": "quantitative", "scale": {"domain": [3.647, 11.026], "nice": false, "zero": false}, "axis": {"title": "[Hours]", "values": [4, 6, 8, 10], "labelExpr": "'' + datum.value", "titleX": 204}}, "x2": {"field": "q3"}}},
    {"data": {"name": "cB"}, "mark": {"type": "tick", "orient": "vertical", "size": 18, "thickness": 3, "color": "#333"}, "encoding": {"x": {"field": "med", "type": "quantitative", "scale": {"domain": [3.647, 11.026], "nice": false, "zero": false}, "axis": {"title": "[Hours]", "values": [4, 6, 8, 10], "labelExpr": "'' + datum.value", "titleX": 204}}}}
   ]
  },
  {"width": 384, "height": 221,
   "title": {"text": "D\u00a0\u00a0\u00a0Sleep quality", "dx": -24.3},
   "encoding": {
    "x": {"field": "x", "type": "quantitative", "scale": {"domain": [-1.448, 23.487], "nice": false, "zero": false}, "axis": {"title": "[Range 0–25/best–worst]", "values": [0, 5, 10, 15, 20], "labelExpr": "'' + datum.value", "titleX": 206.5}},
    "y": {"field": "y", "type": "quantitative", "scale": {"domain": [0.7, 2.6], "nice": false, "zero": false}, "axis": {"title": null, "values": [1, 2], "labels": false}}
   },
   "layer": [
    {"data": {"name": "dPD"}, "mark": {"type": "area", "fill": "#EB6A9F", "fillOpacity": 1, "stroke": "#333", "strokeWidth": 1, "interpolate": "monotone"}, "encoding": {"y2": {"datum": 2.15}}},
    {"data": {"name": "dLD"}, "mark": {"type": "area", "fill": "#FDAA86", "fillOpacity": 1, "stroke": "#333", "strokeWidth": 1, "interpolate": "monotone"}, "encoding": {"y2": {"datum": 1.15}}},
    {"data": {"name": "dB"}, "mark": {"type": "rule", "color": "#333", "strokeWidth": 1.2}, "encoding": {"x": {"field": "lo", "type": "quantitative", "scale": {"domain": [-1.448, 23.487], "nice": false, "zero": false}, "axis": {"title": "[Range 0–25/best–worst]", "values": [0, 5, 10, 15, 20], "labelExpr": "'' + datum.value", "titleX": 206.5}}, "x2": {"field": "hi"}}},
    {"data": {"name": "dB"}, "mark": {"type": "bar", "orient": "horizontal", "size": 18}, "encoding": {"x": {"field": "q1", "type": "quantitative", "scale": {"domain": [-1.448, 23.487], "nice": false, "zero": false}, "axis": {"title": "[Range 0–25/best–worst]", "values": [0, 5, 10, 15, 20], "labelExpr": "'' + datum.value", "titleX": 206.5}}, "x2": {"field": "q3"}, "fill": {"field": "g", "type": "nominal", "scale": {"domain": ["Pre-lockdown", "Lockdown"], "range": ["#F4B8D1", "#FDD0BC"]}, "legend": null}}},
    {"data": {"name": "dP"}, "mark": {"type": "point", "color": "#E2418B"}},
    {"data": {"name": "dL"}, "mark": {"type": "point", "color": "#F9956E"}},
    {"data": {"name": "dB"}, "mark": {"type": "bar", "orient": "horizontal", "size": 18, "fillOpacity": 0, "stroke": "#333", "strokeWidth": 1.4}, "encoding": {"x": {"field": "q1", "type": "quantitative", "scale": {"domain": [-1.448, 23.487], "nice": false, "zero": false}, "axis": {"title": "[Range 0–25/best–worst]", "values": [0, 5, 10, 15, 20], "labelExpr": "'' + datum.value", "titleX": 206.5}}, "x2": {"field": "q3"}}},
    {"data": {"name": "dB"}, "mark": {"type": "tick", "orient": "vertical", "size": 18, "thickness": 3, "color": "#333"}, "encoding": {"x": {"field": "med", "type": "quantitative", "scale": {"domain": [-1.448, 23.487], "nice": false, "zero": false}, "axis": {"title": "[Range 0–25/best–worst]", "values": [0, 5, 10, 15, 20], "labelExpr": "'' + datum.value", "titleX": 206.5}}}}
   ]
  }
]
}
